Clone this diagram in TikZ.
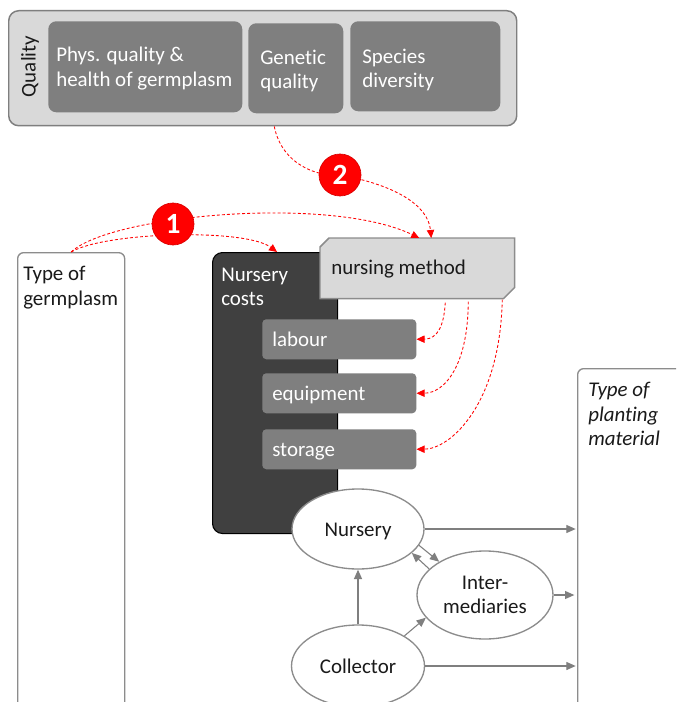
\documentclass[tikz,border=0pt]{standalone}
\usepackage{fontspec}
\setmainfont{Carlito}[Ligatures=NoCommon]
\usetikzlibrary{arrows.meta,shapes.geometric,calc}
\definecolor{panel}{HTML}{D9D9D9}
\definecolor{mid}{HTML}{7F7F7F}
\definecolor{dark}{HTML}{404040}
\definecolor{edge}{HTML}{8C8C8C}
\definecolor{ink}{HTML}{1A1A1A}
\begin{document}
\begin{tikzpicture}[x=0.75pt, y=-0.75pt,
  font=\fontsize{15.7}{18.4}\selectfont,
  tile/.style={fill=mid, draw=none, rounded corners=6pt, anchor=north west, inner sep=0pt},
  lbl/.style={inner sep=0pt, align=left, anchor=north west, text=ink},
  whitelbl/.style={lbl, text=white},
  frame/.style={draw=edge, line width=1pt, fill=white, rounded corners=4.5pt, anchor=north west, inner sep=0pt},
  subbox/.style={fill=mid, rounded corners=3pt, minimum width=115.5pt, minimum height=30pt, anchor=north west, inner sep=0pt},
  actor/.style={ellipse, draw=edge, fill=white, line width=1pt, inner sep=0pt, text=ink, align=center},
  oneline/.style={text height=13pt, text depth=2pt},
  flow/.style={draw=mid, line width=0.8pt, -{Triangle[length=7pt,width=6pt]}},
  link/.style={draw=red, line width=0.65pt, dash pattern=on 2.2pt off 1.6pt, -{Triangle[length=6pt,width=5.5pt]}},
  badge/.style={circle, fill=red, draw=red!85!black, line width=0.5pt, minimum size=31.5pt, inner sep=0pt, text=white, font=\fontsize{22}{22}\selectfont\bfseries}]

\useasboundingbox (0,0) rectangle (676,702);
\clip (0,0) rectangle (676,702);
\fill[white] (0,0) rectangle (676,702);

% quality panel
\node[fill=panel, draw=mid, line width=1.1pt, rounded corners=7.5pt, anchor=north west,
      minimum width=381pt, minimum height=86.25pt, inner sep=0pt] (q) at (8,10) {};
\node[tile, minimum width=145.5pt, minimum height=68.25pt] (g1) at (48,21) {};
\node[tile, minimum width=71.25pt, minimum height=67.5pt] (g2) at (248,23) {};
\node[tile, minimum width=112.5pt, minimum height=67.5pt] (g3) at (350,21) {};
\node[whitelbl] (g1t) at (56,47) {Phys. quality \&\\health of germplasm};
\node[whitelbl] (g2t) at (260,49.5) {Genetic\\quality};
\node[whitelbl] (g3t) at (362,48.5) {Species\\diversity};
\node[rotate=90, text=ink, inner sep=0pt] (ql) at (30,66.5) {Quality};

% side frames
\node[frame, minimum width=80.25pt, minimum height=360pt] (tg) at (17,252) {};
\node[lbl] (tgt) at (23,266) {Type of\\germplasm};
\node[frame, minimum width=92.25pt, minimum height=270pt] (pm) at (577,368) {};
\node[lbl, font=\fontsize{15.7}{18.4}\selectfont\itshape] (pmt) at (588,382) {Type of\\planting\\material};

% nursery costs
\node[fill=dark, draw=black, line width=0.8pt, rounded corners=7.5pt, anchor=north west,
      minimum width=93.75pt, minimum height=210.75pt, inner sep=0pt] (nc) at (212,252) {};
\node[whitelbl] (nct) at (221,267.5) {Nursery\\costs};

% nursing method (chamfered corners)
\node[anchor=north west, minimum width=145.5pt, minimum height=45pt, inner sep=0pt] (nm) at (320,238) {};
\draw[fill=panel, draw=edge, line width=1.1pt]
  ($(nm.north west)+(0,9)$) -- ($(nm.north west)+(9,0)$) -- (nm.north east)
  -- ($(nm.south east)+(0,-11)$) -- ($(nm.south east)+(-11,0)$) -- (nm.south west) -- cycle;
\node[anchor=base west, inner sep=0pt, text=ink] (nmt) at (331,274) {nursing method};

% cost items
\node[subbox] (lab) at (262,319) {};
\node[subbox] (eq) at (262,373) {};
\node[subbox] (st) at (262,429) {};
\node[anchor=base west, inner sep=0pt, text=white] (labt) at ($(lab.west)+(10,7)$) {labour};
\node[anchor=base west, inner sep=0pt, text=white] (eqt) at ($(eq.west)+(10,7)$) {equipment};
\node[anchor=base west, inner sep=0pt, text=white] (stt) at ($(st.west)+(10,7)$) {storage};

% actors
\node[actor, oneline, minimum width=99pt, minimum height=60pt] (nur) at (358,529) {Nursery};
\node[actor, minimum width=102pt, minimum height=66pt] (int) at (485,595) {Inter-\\mediaries};
\node[actor, oneline, minimum width=99.75pt, minimum height=61.5pt] (col) at (358,666) {Collector};

\draw[flow, shorten >=1pt] (nur.east) -- (nur.east -| pm.west);
\draw[flow, shorten >=2pt] (int.east) -- (int.east -| pm.west);
\draw[flow, shorten >=1pt] (col.east) -- (col.east -| pm.west);
\draw[flow] (col.north) -- (nur.south);
\draw[flow] (col.33) -- (int.201);
\draw[flow] (nur.-15) -- (int.144);
\draw[flow] (int.155) -- (nur.-24);

% influence links
\node[inner sep=0pt] (b1) at (173,224) {};
\node[inner sep=0pt] (b2) at (340,175) {};
\coordinate (c2s) at ($(g2.south |- q.south)+(-21.5,0)$);
\draw[link] (tg.north) .. controls (110,215) and (330,195) .. ($(nm.north)+(2,0)$);
\draw[link] (tg.north) .. controls (105,232) and (245,228) .. ($(nc.north)+(2,0)$);
\draw[link] (c2s) .. controls (282,165) and (318,177) .. (b2.center)
  .. controls (395,185) and (428,205) .. ($(nm.north)+(14,0)$);
\draw[link] ($(nm.south)+(28,4)$) .. controls (444,325) and (438,339) .. (lab.east);
\draw[link] ($(nm.south)+(51,3)$) .. controls (468,365) and (445,393) .. (eq.east);
\draw[link] ($(nm.south)+(85,1)$) .. controls (500,405) and (450,449) .. (st.east);

\node[badge] (n1) at (b1) {1};
\node[badge] (n2) at (b2) {2};
\end{tikzpicture}
\end{document}
